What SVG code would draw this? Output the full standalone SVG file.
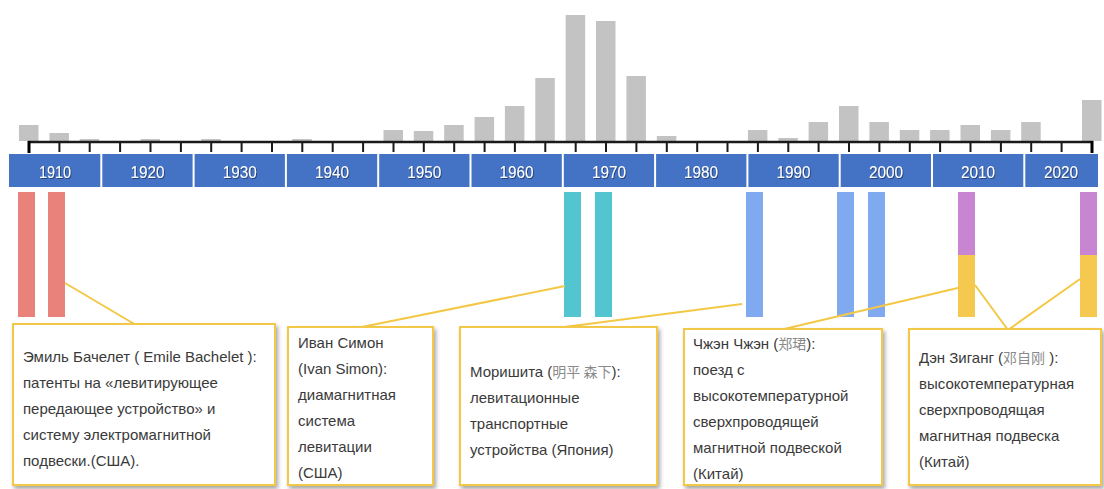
<svg xmlns="http://www.w3.org/2000/svg" width="1104" height="489" viewBox="0 0 1104 489">
<defs>
<style>
.gb{fill:#c3c3c3}
.lbl{font-family:"Liberation Sans",Arial,sans-serif;font-size:17px;fill:#ffffff;text-anchor:middle}
.sep{stroke:#ffffff;stroke-width:2}
.box{fill:#ffffff;stroke:#f3c846;stroke-width:2}
.t{font-family:"Liberation Sans",Arial,"Noto Sans CJK SC",sans-serif;font-size:15px;fill:#3a3a3a}
.cjk{fill:#8a8a8a;font-family:"Noto Sans CJK SC",sans-serif;font-size:14px}
.con{stroke:#f3c846;stroke-width:2;fill:none}
.red{fill:#e8827a}.teal{fill:#52c5d0}.blue{fill:#80aaf0}.pur{fill:#c886d2}.yel{fill:#f5c84f}
</style>
<filter id="sh" x="-10%" y="-10%" width="130%" height="130%">
<feDropShadow dx="2" dy="3" stdDeviation="2" flood-color="#000000" flood-opacity="0.35"/>
</filter>
<filter id="ts" x="-10%" y="-10%" width="130%" height="130%">
<feDropShadow dx="1" dy="1" stdDeviation="0.6" flood-color="#1a2e5a" flood-opacity="0.7"/>
</filter>
</defs>
<rect width="1104" height="489" fill="#ffffff"/>

<g id="histogram">
<rect class="gb" x="19" y="125" width="19.5" height="16"/>
<rect class="gb" x="49.4" y="133" width="19.5" height="8"/>
<rect class="gb" x="79.7" y="139" width="19.5" height="2"/>
<rect class="gb" x="140.5" y="139" width="19.5" height="2"/>
<rect class="gb" x="201.2" y="139" width="19.5" height="2"/>
<rect class="gb" x="292.3" y="139" width="19.5" height="2"/>
<rect class="gb" x="383.5" y="130" width="19.5" height="11"/>
<rect class="gb" x="413.8" y="131" width="19.5" height="10"/>
<rect class="gb" x="444.2" y="125" width="19.5" height="16"/>
<rect class="gb" x="474.6" y="117" width="19.5" height="24"/>
<rect class="gb" x="504.9" y="106" width="19.5" height="35"/>
<rect class="gb" x="535.3" y="78" width="19.5" height="63"/>
<rect class="gb" x="565.7" y="15" width="19.5" height="126"/>
<rect class="gb" x="596" y="21" width="19.5" height="120"/>
<rect class="gb" x="626.4" y="76" width="19.5" height="65"/>
<rect class="gb" x="656.8" y="136" width="19.5" height="5"/>
<rect class="gb" x="747.9" y="130" width="19.5" height="11"/>
<rect class="gb" x="778.3" y="138" width="19.5" height="3"/>
<rect class="gb" x="808.6" y="122" width="19.5" height="19"/>
<rect class="gb" x="839" y="106" width="19.5" height="35"/>
<rect class="gb" x="869.4" y="122" width="19.5" height="19"/>
<rect class="gb" x="899.8" y="130" width="19.5" height="11"/>
<rect class="gb" x="930.1" y="130" width="19.5" height="11"/>
<rect class="gb" x="960.5" y="125" width="19.5" height="16"/>
<rect class="gb" x="990.9" y="130" width="19.5" height="11"/>
<rect class="gb" x="1021.2" y="122" width="19.5" height="19"/>
<rect class="gb" x="1082" y="100" width="19.5" height="41"/>
</g>

<g id="axis">
<line x1="28" y1="142" x2="1093" y2="142" stroke="#1a1a1a" stroke-width="2.5"/>
<path stroke="#1a1a1a" stroke-width="2" fill="none" d="M59.4 142V152M89.7 142V152M120.1 142V152M150.5 142V152M180.9 142V152M211.2 142V152M241.6 142V152M272 142V152M302.3 142V152M332.7 142V152M363.1 142V152M393.5 142V152M423.8 142V152M454.2 142V152M484.6 142V152M514.9 142V152M545.3 142V152M575.7 142V152M606 142V152M636.4 142V152M666.8 142V152M697.2 142V152M727.5 142V152M757.9 142V152M788.3 142V152M818.6 142V152M849 142V152M879.4 142V152M909.8 142V152M940.1 142V152M970.5 142V152M1000.9 142V152M1031.2 142V152M1061.6 142V152"/>
<path stroke="#000000" stroke-width="3" fill="none" d="M29 141V153M1092 141V153"/>
</g>

<g id="timeline">
<rect x="9" y="154" width="1089" height="33" fill="#4472c4"/>
<path class="sep" d="M101.3 154V187M193.6 154V187M285.9 154V187M378.2 154V187M470.5 154V187M562.8 154V187M655.1 154V187M747.4 154V187M839.7 154V187M932 154V187M1024.3 154V187"/>
<g filter="url(#ts)">
<text class="lbl" x="55" y="178" textLength="32" lengthAdjust="spacingAndGlyphs">1910</text>
<text class="lbl" x="147.5" y="178" textLength="34" lengthAdjust="spacingAndGlyphs">1920</text>
<text class="lbl" x="239.7" y="178" textLength="34" lengthAdjust="spacingAndGlyphs">1930</text>
<text class="lbl" x="332" y="178" textLength="34" lengthAdjust="spacingAndGlyphs">1940</text>
<text class="lbl" x="424.3" y="178" textLength="34" lengthAdjust="spacingAndGlyphs">1950</text>
<text class="lbl" x="516.6" y="178" textLength="34" lengthAdjust="spacingAndGlyphs">1960</text>
<text class="lbl" x="609" y="178" textLength="34" lengthAdjust="spacingAndGlyphs">1970</text>
<text class="lbl" x="701" y="178" textLength="34" lengthAdjust="spacingAndGlyphs">1980</text>
<text class="lbl" x="793.5" y="178" textLength="34" lengthAdjust="spacingAndGlyphs">1990</text>
<text class="lbl" x="886" y="178" textLength="34" lengthAdjust="spacingAndGlyphs">2000</text>
<text class="lbl" x="978" y="178" textLength="34" lengthAdjust="spacingAndGlyphs">2010</text>
<text class="lbl" x="1061" y="178" textLength="34" lengthAdjust="spacingAndGlyphs">2020</text>
</g>
</g>

<g id="event-bars">
<rect class="red" x="18" y="192" width="17" height="125"/>
<rect class="red" x="48" y="192" width="17" height="125"/>
<rect class="teal" x="564" y="192" width="17" height="125"/>
<rect class="teal" x="595" y="192" width="17" height="125"/>
<rect class="blue" x="746" y="192" width="17" height="125"/>
<rect class="blue" x="837" y="192" width="17" height="125"/>
<rect class="blue" x="868" y="192" width="17" height="125"/>
<rect class="pur" x="958" y="192" width="17" height="63"/>
<rect class="yel" x="958" y="255" width="17" height="62"/>
<rect class="pur" x="1080" y="192" width="17" height="63"/>
<rect class="yel" x="1080" y="255" width="17" height="62"/>
</g>

<g id="connectors">
<line class="con" x1="65" y1="283" x2="136" y2="325"/>
<line class="con" x1="565" y1="286" x2="357" y2="328"/>
<line class="con" x1="742" y1="304" x2="557" y2="328"/>
<line class="con" x1="962" y1="287" x2="780" y2="330"/>
<line class="con" x1="975" y1="285" x2="1008" y2="330"/>
<line class="con" x1="1080" y1="279" x2="1008" y2="330"/>
</g>

<g id="box-bachelet">
<rect class="box" x="13" y="324" width="262" height="161" filter="url(#sh)"/>
<text class="t" x="23" y="362">Эмиль Бачелет ( Emile Bachelet ):</text>
<text class="t" x="23" y="388">патенты на «левитирующее</text>
<text class="t" x="23" y="414">передающее  устройство» и</text>
<text class="t" x="23" y="440">систему электромагнитной</text>
<text class="t" x="23" y="466">подвески.(США).</text>
</g>

<g id="box-simon">
<rect class="box" x="288" y="327" width="145" height="158" filter="url(#sh)"/>
<text class="t" x="298" y="348">Иван Симон</text>
<text class="t" x="298" y="374">(Ivan  Simon):</text>
<text class="t" x="298" y="400">диамагнитная</text>
<text class="t" x="298" y="426">система</text>
<text class="t" x="298" y="452">левитации</text>
<text class="t" x="298" y="478">(США)</text>
</g>

<g id="box-morishita">
<rect class="box" x="460" y="327" width="197" height="158" filter="url(#sh)"/>
<text class="t" x="470" y="377">Моришита (<tspan class="cjk">明平 森下</tspan>):</text>
<text class="t" x="470" y="403">левитационные</text>
<text class="t" x="470" y="429">транспортные</text>
<text class="t" x="470" y="455">устройства (Япония)</text>
</g>

<g id="box-zheng">
<rect class="box" x="684" y="329" width="198" height="156" filter="url(#sh)"/>
<text class="t" x="693" y="349">Чжэн Чжэн (<tspan class="cjk">郑珺</tspan>):</text>
<text class="t" x="693" y="375">поезд с</text>
<text class="t" x="693" y="401">высокотемпературной</text>
<text class="t" x="693" y="427">сверхпроводящей</text>
<text class="t" x="693" y="453">магнитной  подвеской</text>
<text class="t" x="693" y="479">(Китай)</text>
</g>

<g id="box-deng">
<rect class="box" x="909" y="329" width="192" height="156" filter="url(#sh)"/>
<text class="t" x="919" y="363">Дэн Зиганг (<tspan class="cjk">邓自刚</tspan> ):</text>
<text class="t" x="919" y="389">высокотемпературная</text>
<text class="t" x="919" y="415">сверхпроводящая</text>
<text class="t" x="919" y="441">магнитная  подвеска</text>
<text class="t" x="919" y="467">(Китай)</text>
</g>
</svg>
